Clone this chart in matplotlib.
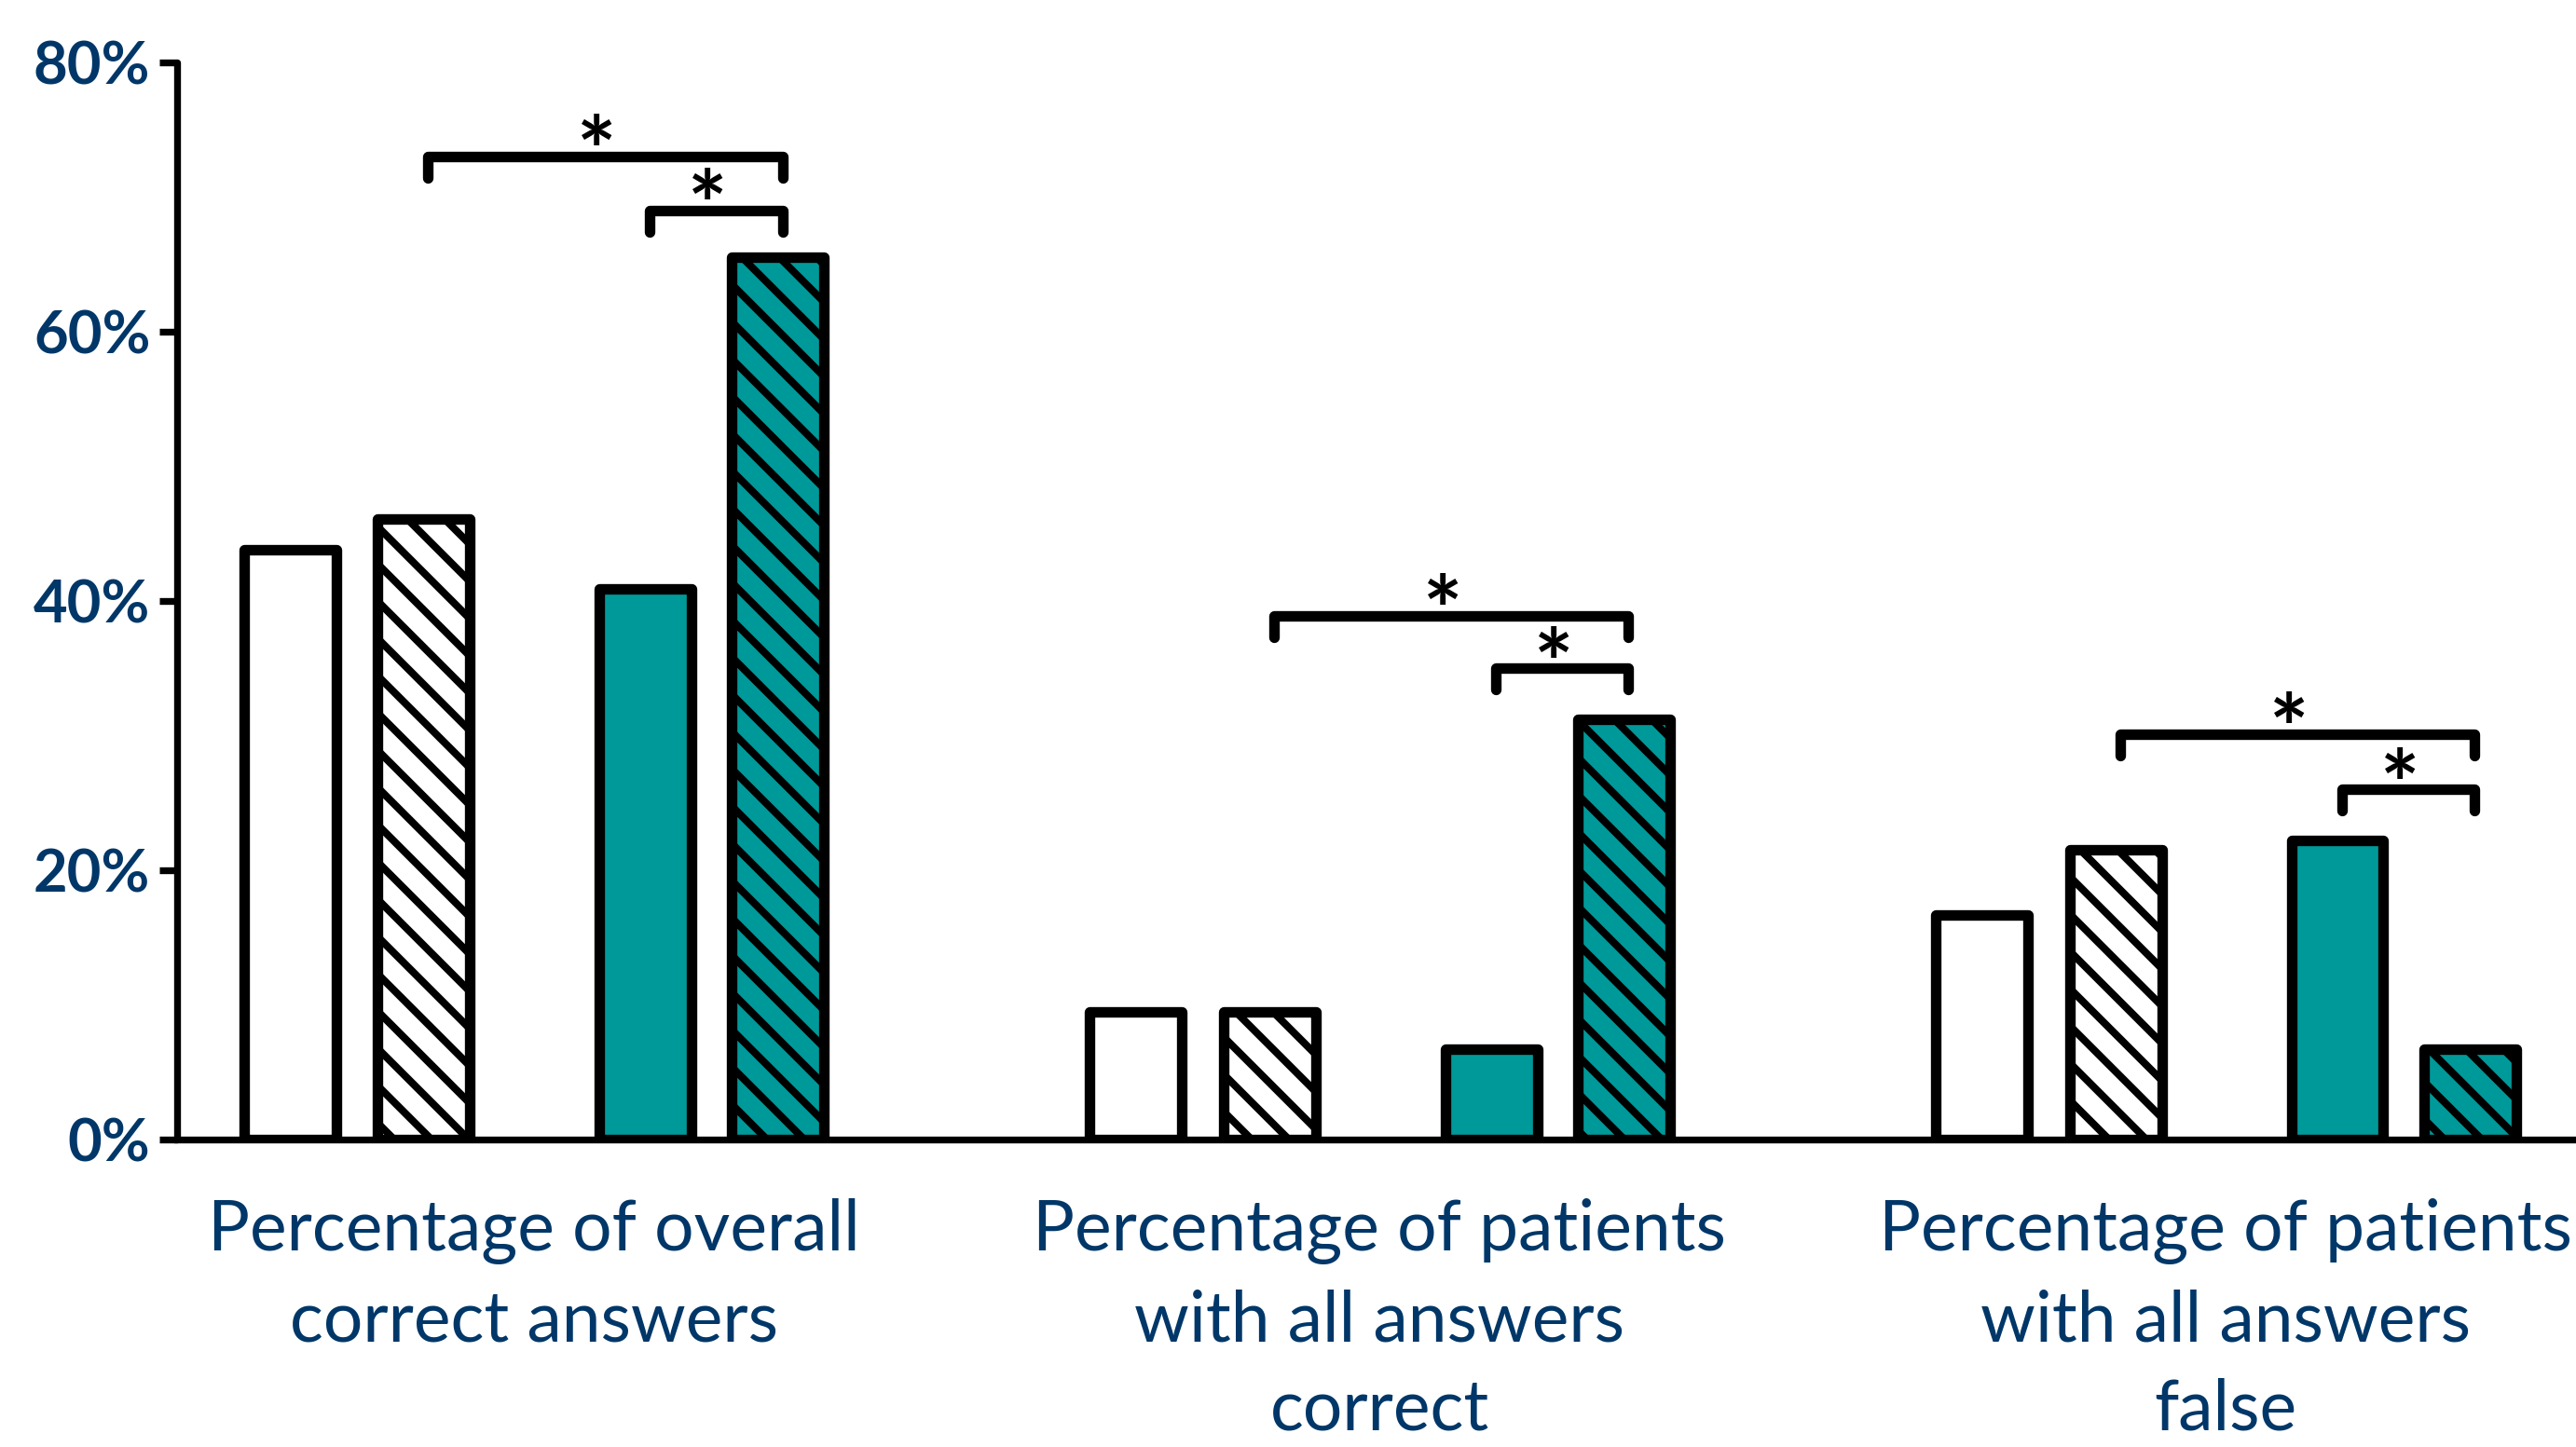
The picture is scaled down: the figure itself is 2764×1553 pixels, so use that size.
import matplotlib
matplotlib.use("Agg")
import matplotlib.pyplot as plt
import numpy as np

plt.rcParams['font.family'] = ['Lato', 'DejaVu Sans']
plt.rcParams['hatch.linewidth'] = 2.4

categories = ["Percentage of overall\ncorrect answers",
              "Percentage of patients\nwith all answers\ncorrect",
              "Percentage of patients\nwith all answers\nfalse"]

# four bar series per group (values in %)
white_plain = [43.8, 9.5, 16.7]
white_hatched = [46.1, 9.5, 21.5]
teal_plain = [40.9, 6.7, 22.2]
teal_hatched = [65.5, 31.2, 6.7]

y_ticks = [0, 20, 40, 60, 80]
y_tick_labels = ["0%", "20%", "40%", "60%", "80%"]

# significance brackets: group, from bar, to bar, height (%)
bracket_group = [0, 0, 1, 1, 2, 2]
bracket_from = [1, 2, 1, 2, 1, 2]
bracket_to = [3, 3, 3, 3, 3, 3]
bracket_height = [73.0, 69.0, 38.9, 35.0, 30.1, 26.0]
bracket_text = ["*", "*", "*", "*", "*", "*"]

teal = "#009999"
navy = "#003768"

series = [white_plain, white_hatched, teal_plain, teal_hatched]
faces = ["white", "white", teal, teal]
hatches = [None, "\\\\", None, "\\\\"]
offsets = [-0.288, -0.130, 0.132, 0.289]
width = 0.109

fig = plt.figure(figsize=(2764 / 240, 1553 / 240), dpi=240)
ax = fig.add_axes([0.0689, 0.2125, 0.9311, 0.7444])

x = np.arange(len(categories))
for vals, fc, h, off in zip(series, faces, hatches, offsets):
    ax.bar(x + off, vals, width, color=fc, edgecolor="black", linewidth=3.4,
           hatch=h, joinstyle="round", zorder=3)

drop = 1.6
for g, b0, b1, hgt, txt in zip(bracket_group, bracket_from, bracket_to,
                               bracket_height, bracket_text):
    x0 = g + offsets[b0] + 0.005
    x1 = g + offsets[b1] + 0.005
    ax.plot([x0, x0, x1, x1], [hgt - drop, hgt, hgt, hgt - drop], color="black",
            lw=3.4, solid_capstyle="round", solid_joinstyle="round",
            clip_on=False, zorder=4)
    ax.text((x0 + x1) / 2 - 0.01, hgt - 2.1, txt, ha="center", va="baseline",
            fontsize=30, fontweight="bold", color="black")

ax.set_xlim(-0.421, 2.414)
ax.set_ylim(0, 80)
ax.set_yticks(y_ticks)
ax.set_yticklabels(y_tick_labels, fontsize=19, fontweight="bold", color=navy)
ax.set_xticks(x)
ax.set_xticklabels(categories, fontsize=22.5, color=navy, linespacing=1.47)
ax.tick_params(axis="x", length=0, pad=19)
ax.tick_params(axis="y", length=5.7, width=2.2, pad=3, direction="out")

for s in ["top", "right"]:
    ax.spines[s].set_visible(False)
ax.spines["left"].set_linewidth(2.2)
ax.spines["bottom"].set_linewidth(2.2)
ax.spines["left"].set_capstyle("round")

fig.savefig("out.png", dpi=240)
